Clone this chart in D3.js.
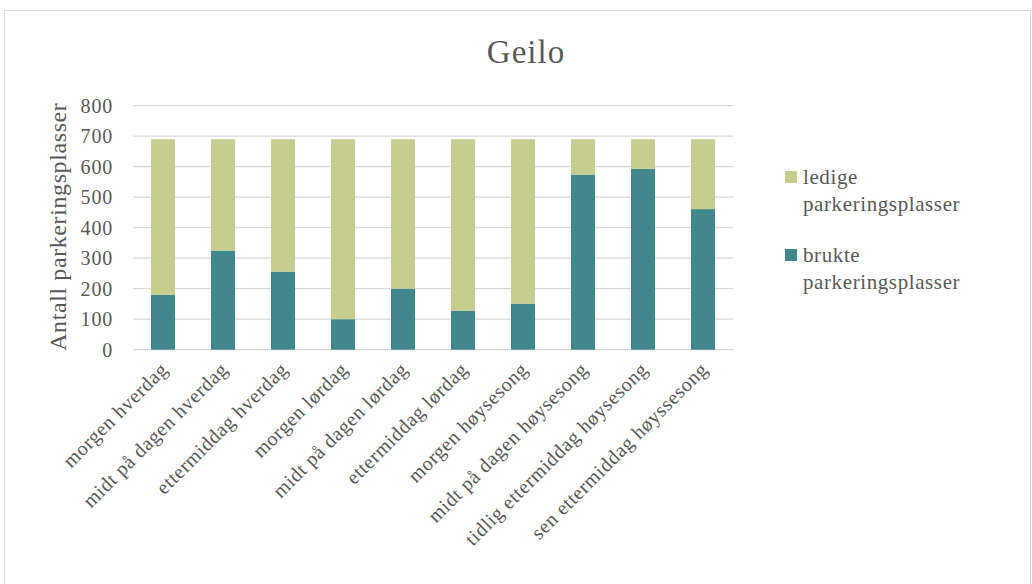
<!DOCTYPE html>
<html>
<head>
<meta charset="utf-8">
<script src="https://cdn.jsdelivr.net/npm/d3@7"></script>
<style>
  body { margin: 0; background: #fff; }
  text { font-family: "Liberation Serif", "DejaVu Serif", serif; fill: #595959; }
</style>
</head>
<body>
<svg id="chart" width="1032" height="584"></svg>
<script>
var categories = ["morgen hverdag", "midt på dagen hverdag", "ettermiddag hverdag", "morgen lørdag",
    "midt på dagen lørdag", "ettermiddag lørdag", "morgen høysesong", "midt på dagen høysesong",
    "tidlig ettermiddag høysesong", "sen ettermiddag høyssesong"];
var brukte = [180, 325, 256, 100, 200, 128, 151, 574, 593, 461];
var ledige = [510, 365, 434, 590, 490, 562, 539, 116, 97, 229];
var yTicks = [0, 100, 200, 300, 400, 500, 600, 700, 800];
var seriesNames = ["ledige parkeringsplasser", "brukte parkeringsplasser"];

var svg = d3.select("#chart");

// chart frame
svg.append("rect")
    .attr("x", 4.5).attr("y", 10.5)
    .attr("width", 1026).attr("height", 600)
    .attr("fill", "none").attr("stroke", "#d9d9d9");

var margin = { top: 105.7, left: 133, right: 299, bottom: 234.3 },
    width = 1032 - margin.left - margin.right,
    height = 584 - margin.top - margin.bottom;

var g = svg.append("g")
    .attr("transform", "translate(" + margin.left + "," + margin.top + ")");

var x = d3.scaleBand().domain(categories).range([0, width]).paddingInner(0.6).paddingOuter(0.3);
var y = d3.scaleLinear().domain([0, 800]).range([height, 0]);

// gridlines
g.selectAll(".grid")
    .data(yTicks)
    .enter().append("line")
    .attr("x1", 0).attr("x2", width)
    .attr("y1", function (d) { return y(d); })
    .attr("y2", function (d) { return y(d); })
    .attr("stroke", "#d9d9d9").attr("stroke-width", 1.3);

var rows = categories.map(function (c, i) {
    return { cat: c, brukte: brukte[i], ledige: ledige[i] };
});
var stack = d3.stack().keys(["brukte", "ledige"])(rows);
var color = { brukte: "#41878c", ledige: "#c7cd8f" };

g.selectAll(".series")
    .data(stack)
    .enter().append("g")
    .attr("fill", function (d) { return color[d.key]; })
    .selectAll("rect")
    .data(function (d) { return d; })
    .enter().append("rect")
    .attr("x", function (d) { return x(d.data.cat); })
    .attr("width", x.bandwidth())
    .attr("y", function (d) { return y(d[1]); })
    .attr("height", function (d) { return y(d[0]) - y(d[1]); });

// y axis
var yAxis = g.append("g")
    .call(d3.axisLeft(y).tickValues(yTicks).tickSize(0).tickPadding(20));
yAxis.select(".domain").remove();
yAxis.selectAll("text")
    .style("font-family", "Liberation Serif, serif")
    .style("font-size", "20px")
    .style("letter-spacing", "0.8px")
    .attr("fill", "#595959");

// x axis
var xAxis = g.append("g")
    .attr("transform", "translate(0," + height + ")")
    .call(d3.axisBottom(x).tickSize(0).tickPadding(0));
xAxis.select(".domain").remove();
xAxis.selectAll("text")
    .style("font-family", "Liberation Serif, serif")
    .style("font-size", "20px")
    .style("letter-spacing", "0.6px")
    .attr("fill", "#595959")
    .attr("text-anchor", "end")
    .attr("dy", "0")
    .attr("transform", "translate(6,21) rotate(-45)");

// title
svg.append("text")
    .attr("x", 526).attr("y", 63)
    .attr("text-anchor", "middle")
    .style("font-size", "33px")
    .style("letter-spacing", "1px")
    .text("Geilo");

// y axis title
svg.append("text")
    .attr("transform", "translate(66," + (margin.top + height / 2 - 1) + ") rotate(-90)")
    .attr("text-anchor", "middle")
    .style("font-size", "24px")
    .style("letter-spacing", "0.6px")
    .text("Antall parkeringsplasser");

// legend
var legendData = [
    { key: "ledige", lines: ["ledige", "parkeringsplasser"], y: 171 },
    { key: "brukte", lines: ["brukte", "parkeringsplasser"], y: 249 }
];
var legend = svg.selectAll(".legend")
    .data(legendData)
    .enter().append("g")
    .attr("transform", function (d) { return "translate(785," + d.y + ")"; });
legend.append("rect")
    .attr("width", 12).attr("height", 12)
    .attr("fill", function (d) { return color[d.key]; });
legend.append("text")
    .attr("x", 18).attr("y", 13)
    .style("font-size", "21px")
    .style("letter-spacing", "0.6px")
    .selectAll("tspan")
    .data(function (d) { return d.lines; })
    .enter().append("tspan")
    .attr("x", 18)
    .attr("dy", function (d, i) { return i === 0 ? 0 : 27; })
    .text(function (d) { return d; });
</script>
</body>
</html>
